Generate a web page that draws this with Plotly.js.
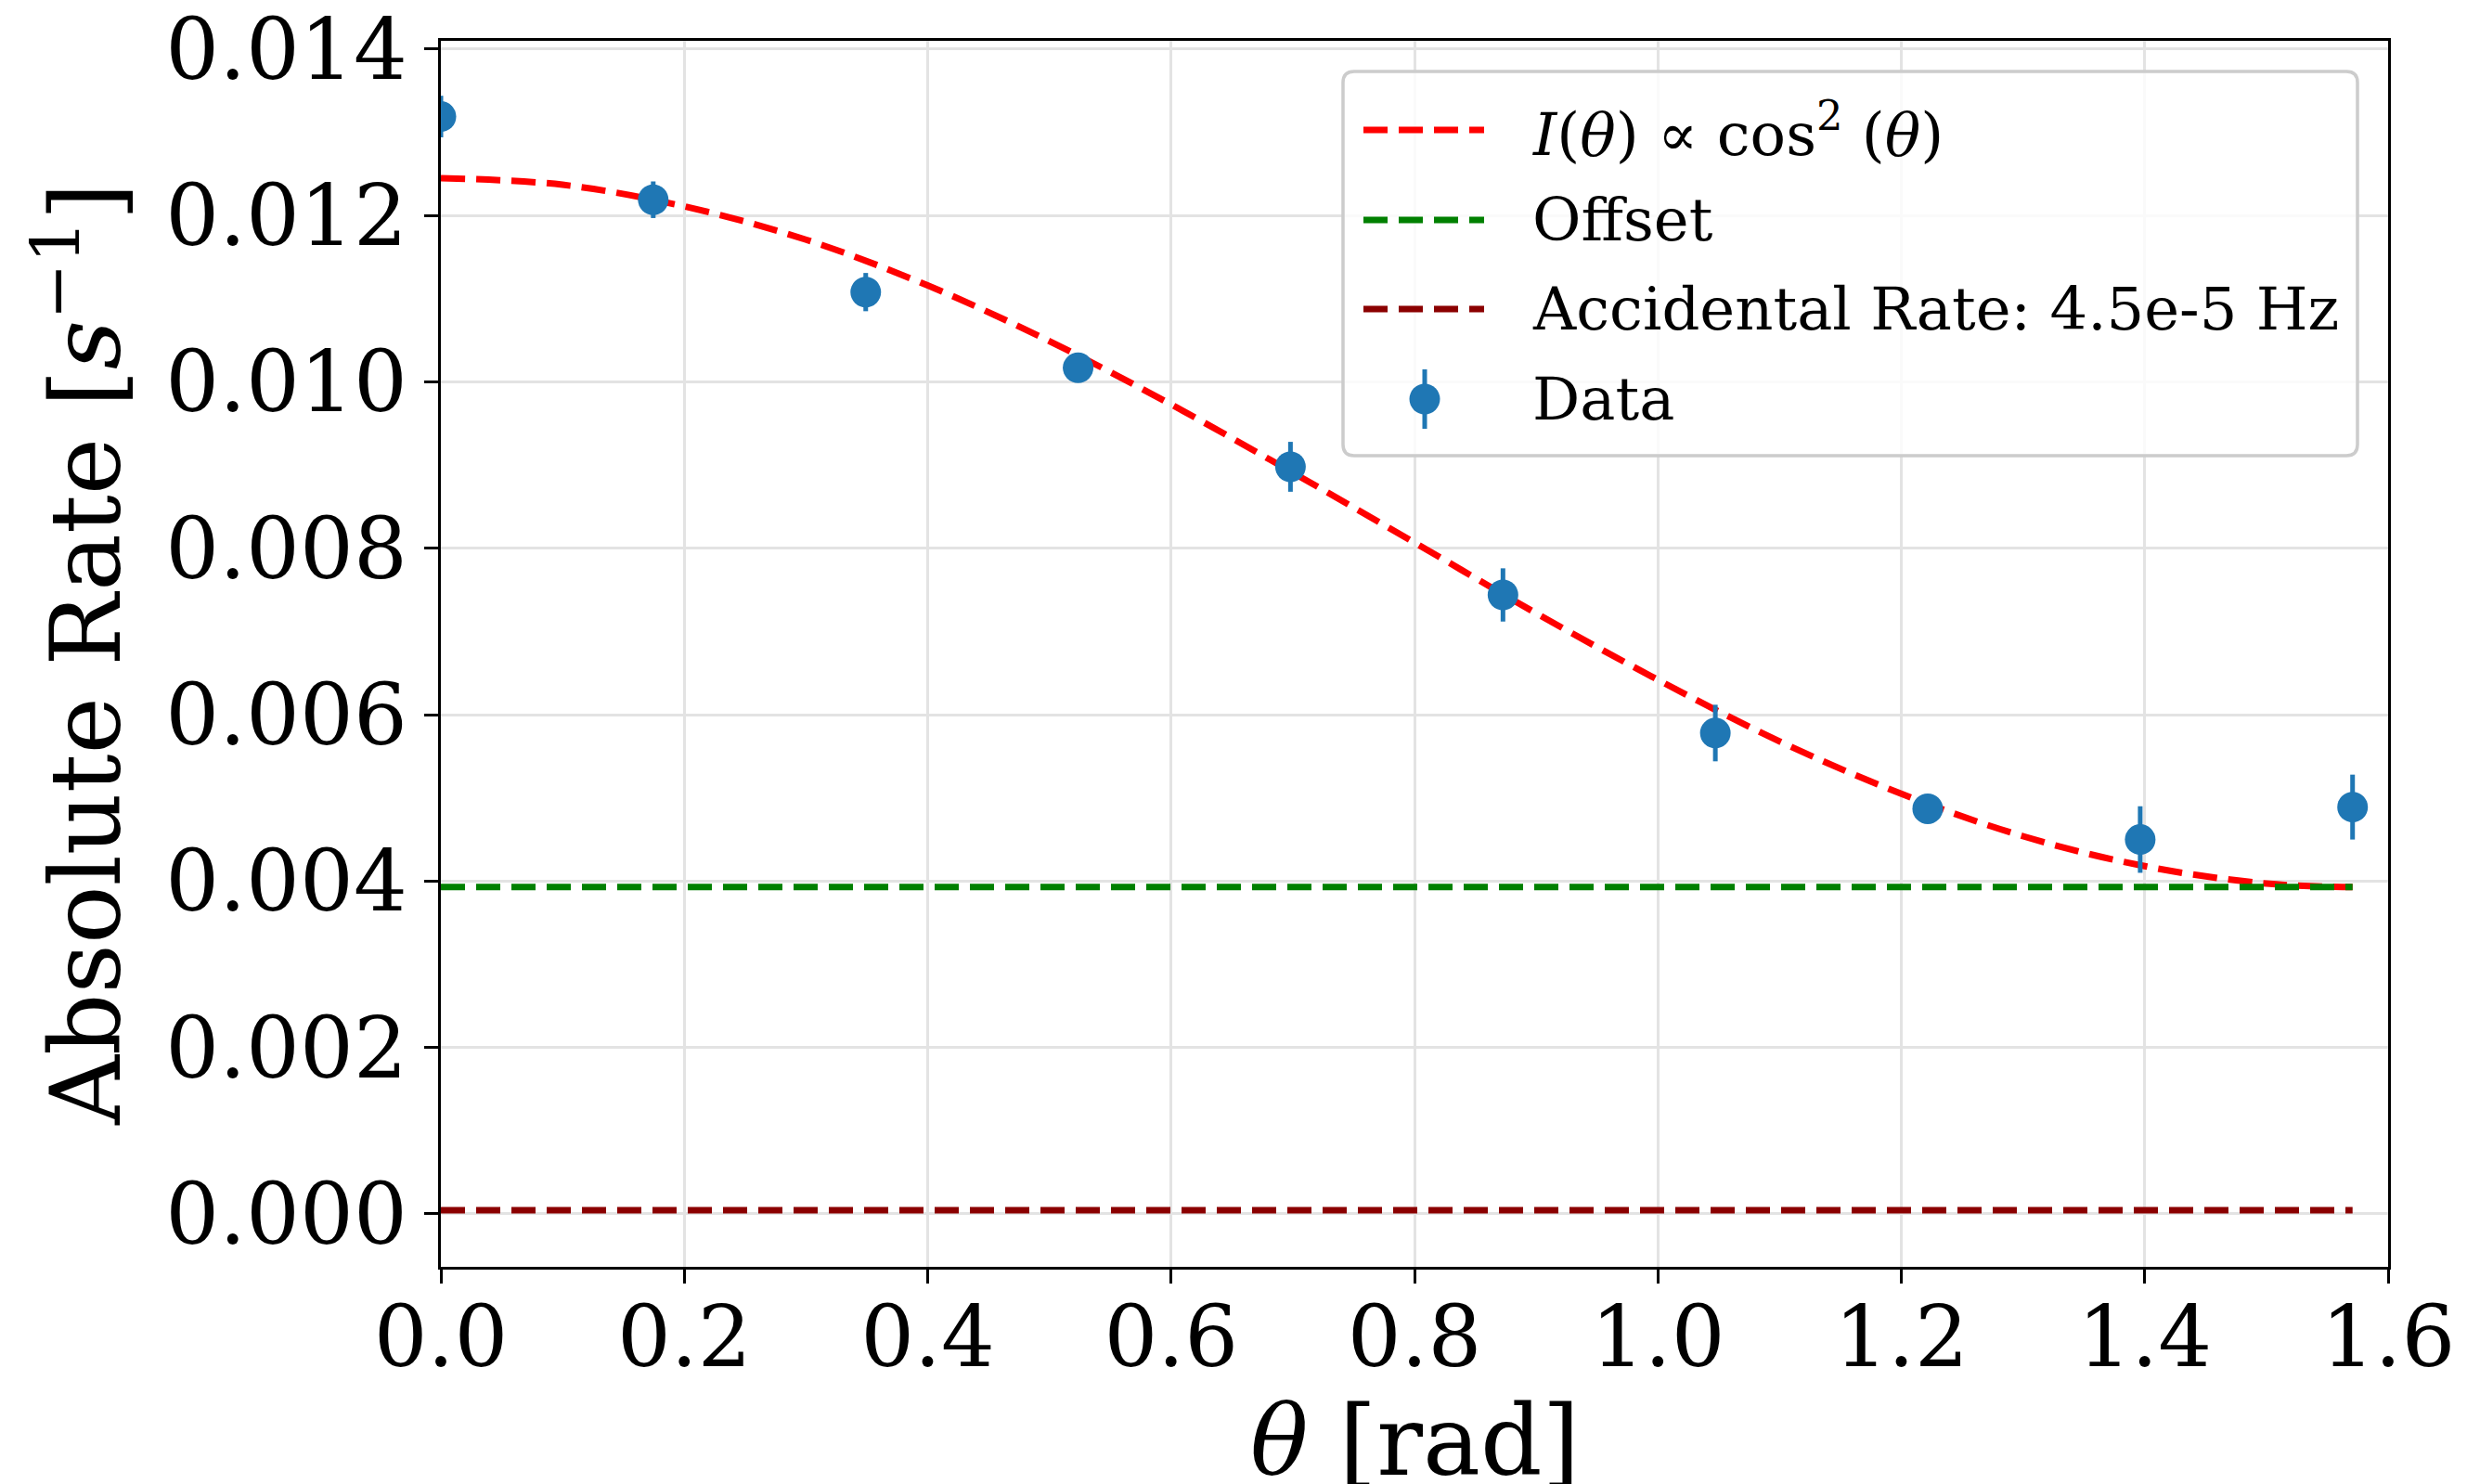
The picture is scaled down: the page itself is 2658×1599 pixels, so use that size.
<!DOCTYPE html>
<html><head><meta charset="utf-8">
<script src="https://cdn.plot.ly/plotly-3.0.1.min.js"></script>
<style>html,body{margin:0;padding:0;background:#fff}</style>
</head><body>
<div id="chart" style="width:2658px;height:1599px"></div>
<script>
// Measured data
const thetaRad = [0, 0.1745, 0.3491, 0.5236, 0.6981, 0.8727, 1.0472, 1.2217, 1.3963, 1.5708];
const rate = [0.01319, 0.01219, 0.01108, 0.01017, 0.00898, 0.00744, 0.00578, 0.00487, 0.00450, 0.00489];
const rateErr = [0.00025, 0.00022, 0.00023, 0.00015, 0.00030, 0.00032, 0.00034, 0.00015, 0.00040, 0.00039];
// Fit curve
const fitTheta = [0, 0.1, 0.2, 0.3, 0.4, 0.5, 0.6, 0.7, 0.8, 0.9, 1.0, 1.1, 1.2, 1.3, 1.4, 1.5, 1.5708];
const fitRate = [0.01245, 0.01237, 0.01211, 0.01171, 0.01116, 0.01049, 0.00973, 0.00891, 0.00807, 0.00722, 0.00642, 0.00568, 0.00505, 0.00454, 0.00418, 0.00397, 0.00393];
// Horizontal reference lines
const lineTheta = [0, 1.5708];
const offsetRate = [0.00393, 0.00393];
const accidentalRate = [0.000045, 0.000045];
// Labels
const xTitle = "<i>θ</i> [rad]";
const yTitle = "Absolute Rate [<i>s</i><sup>−1</sup>]";
const legendLabels = ["<i>I</i>(<i>θ</i>) ∝ cos<sup>2</sup> (<i>θ</i>)", "Offset", "Accidental Rate: 4.5e-5 Hz", "Data"];
const legendColors = ["#ff0000", "#008000", "#8b0000", "#1f77b4"];

const FONT = "DejaVu Serif";
const dash = "26px,12px";

const traces = [
  {x: fitTheta, y: fitRate, mode: "lines", line: {color: legendColors[0], width: 7, dash: dash, shape: "spline"}, showlegend: false, hoverinfo: "skip"},
  {x: lineTheta, y: offsetRate, mode: "lines", line: {color: legendColors[1], width: 7, dash: dash}, showlegend: false},
  {x: lineTheta, y: accidentalRate, mode: "lines", line: {color: legendColors[2], width: 7, dash: dash}, showlegend: false},
  {x: thetaRad, y: rate, mode: "markers", marker: {color: legendColors[3], size: 33},
   error_y: {type: "data", array: rateErr, visible: true, color: legendColors[3], thickness: 5, width: 0}, showlegend: false}
];

// plot area: x 475..2573, y 44..1365
const W = 2658, H = 1599, L = 475, R = 2573, T = 44, B = 1365;
const px = v => (v - L) / (R - L);
const py = v => 1 - (v - T) / (B - T);

const shapes = [];
const annotations = [];
// legend frame (rounded)
{
  const x0 = px(1447), x1 = px(2540), y0 = py(491), y1 = py(77);
  const rx = 12 / (R - L), ry = 12 / (B - T);
  const path = `M${x0+rx},${y1} L${x1-rx},${y1} Q${x1},${y1} ${x1},${y1-ry} L${x1},${y0+ry} Q${x1},${y0} ${x1-rx},${y0} L${x0+rx},${y0} Q${x0},${y0} ${x0},${y0+ry} L${x0},${y1-ry} Q${x0},${y1} ${x0+rx},${y1} Z`;
  shapes.push({type: "path", xref: "paper", yref: "paper", path: path, fillcolor: "rgba(255,255,255,0.8)", line: {color: "#cccccc", width: 3.5}, layer: "above"});
}
const rowsY = [140, 237, 333, 430];
for (let i = 0; i < 3; i++) {
  shapes.push({type: "line", xref: "paper", yref: "paper", x0: px(1469), x1: px(1599), y0: py(rowsY[i]), y1: py(rowsY[i]),
    line: {color: legendColors[i], width: 7, dash: dash}, layer: "above"});
}
shapes.push({type: "line", xref: "paper", yref: "paper", x0: px(1535), x1: px(1535), y0: py(398), y1: py(462),
  line: {color: legendColors[3], width: 5}, layer: "above"});
shapes.push({type: "circle", xref: "paper", yref: "paper", xsizemode: "pixel", ysizemode: "pixel",
  xanchor: px(1535), yanchor: py(430), x0: -16.5, x1: 16.5, y0: -16.5, y1: 16.5,
  fillcolor: legendColors[3], line: {width: 0}, layer: "above"});
for (let i = 0; i < 4; i++) {
  annotations.push({xref: "paper", yref: "paper", x: px(1649), y: py(rowsY[i]), xanchor: "left", yanchor: "middle",
    text: legendLabels[i], showarrow: false, font: {family: FONT, size: 64, color: "#000"}});
}
// x axis title as annotation (exact placement)
annotations.push({xref: "paper", yref: "paper", x: 0.5, y: py(1553), xanchor: "center", yanchor: "middle",
  text: xTitle, showarrow: false, font: {family: FONT, size: 104, color: "#000"}});

const layout = {
  width: W, height: H,
  margin: {l: L, r: W - R, t: T, b: H - B},
  paper_bgcolor: "#fff", plot_bgcolor: "#fff",
  font: {family: FONT, color: "#000"},
  showlegend: false,
  xaxis: {
    range: [0, 1.6], dtick: 0.2, tick0: 0, tickformat: ".1f",
    showline: true, linecolor: "#000", linewidth: 3, mirror: true,
    ticks: "outside", ticklen: 15, tickwidth: 3, tickcolor: "#000",
    showgrid: true, gridcolor: "#e3e3e3", gridwidth: 3, zeroline: false,
    tickfont: {family: FONT, size: 91, color: "#000"},
    ticklabelstandoff: -20,
    automargin: false
  },
  yaxis: {
    range: [-0.000636, 0.0141], dtick: 0.002, tick0: 0, tickformat: ".3f",
    showline: true, linecolor: "#000", linewidth: 3, mirror: true,
    ticks: "outside", ticklen: 15, tickwidth: 3, tickcolor: "#000",
    showgrid: true, gridcolor: "#e3e3e3", gridwidth: 3, zeroline: false,
    tickfont: {family: FONT, size: 91, color: "#000"},
    title: {text: yTitle, font: {family: FONT, size: 104, color: "#000"}, standoff: 14},
    automargin: false
  },
  shapes: shapes,
  annotations: annotations
};

Plotly.newPlot("chart", traces, layout, {displayModeBar: false, staticPlot: true});
</script>
</body></html>
